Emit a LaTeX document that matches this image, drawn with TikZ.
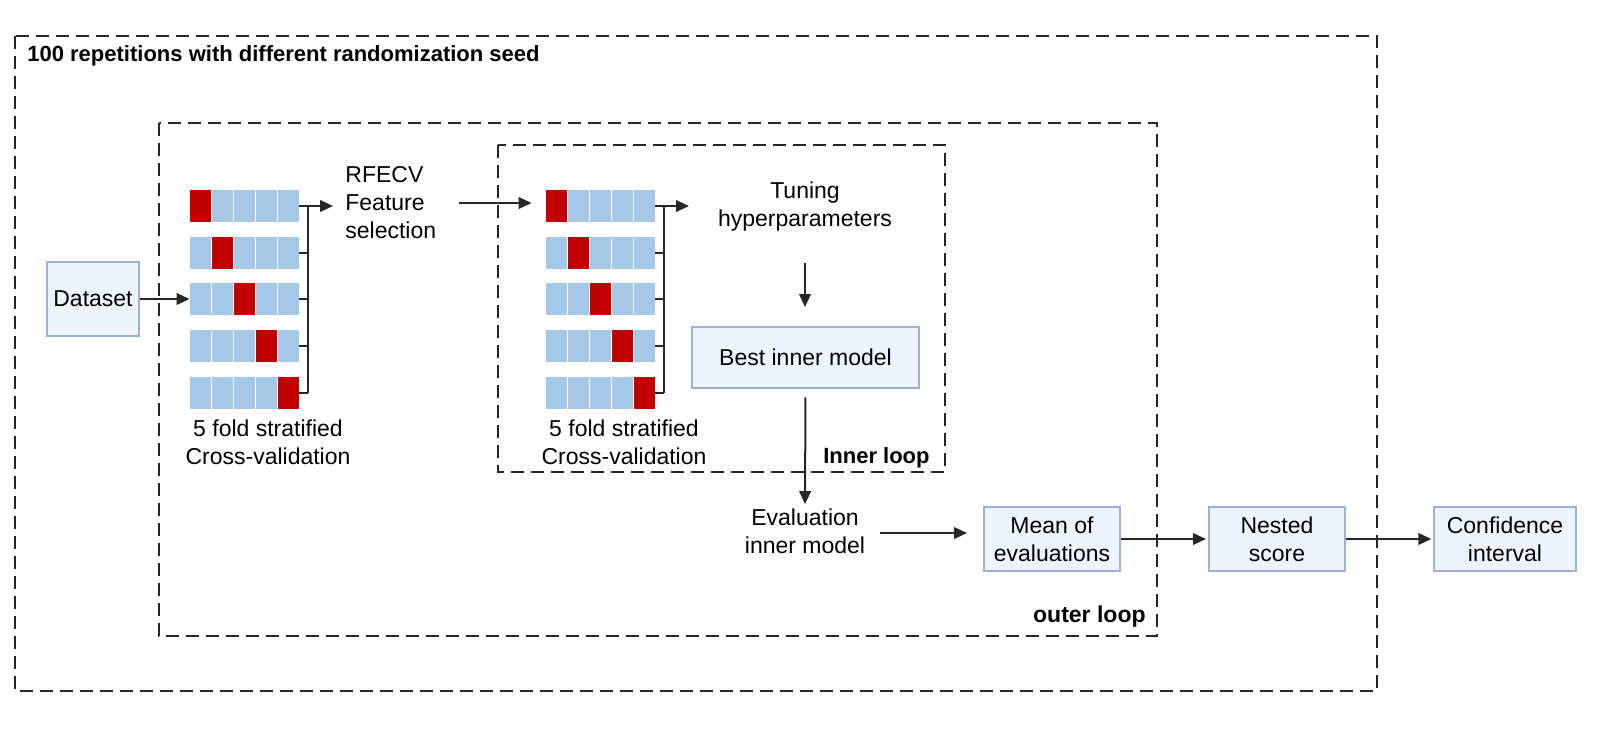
\documentclass[tikz,border=0pt]{standalone}
\usepackage{fontspec}
\setmainfont{Liberation Sans}
\usepackage{tikz}
\usetikzlibrary{arrows.meta, positioning}

\begin{document}
\begin{tikzpicture}[
		x=0.5pt, y=-0.5pt,
		frame/.style={dashed, dash pattern=on 6.5pt off 3.5pt, line width=1pt, black!85},
		cell/.style={minimum width=10.25pt, minimum height=16pt, inner sep=0pt, draw=none},
		link/.style={line width=1pt, black!85},
		arr/.style={link, -{Triangle[length=6.5pt, width=5.8pt]}},
		txt/.style={font=\fontsize{11.5}{14}\selectfont, align=center, inner sep=0pt},
		box/.style={draw=boxline, fill=boxfill, line width=1pt, inner sep=0pt, align=center, font=\fontsize{11.5}{14}\selectfont},
		tag/.style={font=\fontsize{#1}{12}\selectfont\bfseries, inner sep=0pt}
		]
		\definecolor{foldblue}{HTML}{A5C8E8}
		\definecolor{foldred}{HTML}{C00000}
		\definecolor{boxfill}{HTML}{EEF4FD}
		\definecolor{boxline}{HTML}{9CB0D8}
		
		\useasboundingbox (0,0) rectangle (1600,738);
		
		% Repetitions
		\draw[frame] (15,36) rectangle (1377,691);
		\node[tag=11, anchor=base west] (reps) at (27,62) {100 repetitions with different randomization seed};
		
		% Outer loop
		\draw[frame] (159,123) rectangle (1157,636);
		\node[tag=11.5, anchor=base east] (outerlbl) at (1146,622) {outer loop};
		
		% Inner loop
		\draw[frame] (498,145) rectangle (945,472);
		\node[tag=11, anchor=base east] (innerlbl) at (930,463) {Inner loop};
		
		% Fold grids (A outer, B inner)
		\foreach \g/\gx in {A/190,B/546} {
			\foreach \r in {0,...,4} {
				\foreach \c in {0,...,4} {
					\ifnum\c=\r \def\clr{foldred}\else\def\clr{foldblue}\fi
					\node[cell, fill=\clr] (cv\g-\r-\c) at ({\gx+10.25+22*\c},{206+46.7*\r}) {};
				}
				\draw[link] (cv\g-\r-4.east) -- ++(9.5,0);
			}
			\draw[link] ([xshift=4.75pt]cv\g-0-4.east) -- ([xshift=4.75pt]cv\g-4-4.east);
			\node[txt] (cvlbl\g) at ({\gx+78},442) {5 fold stratified\\Cross-validation};
		}
		
		\node[box, minimum width=46.3pt, minimum height=36.8pt] (data) at (93,299) {Dataset};
		\node[txt, align=left, anchor=west] (rfe) at (345,203) {RFECV\\Feature\\selection};
		\node[txt] (tune) at (805,207) {Tuning\\hyperparameters};
		\node[box, minimum width=113.8pt, minimum height=30.8pt] (best) at (805.5,357.5) {Best inner model};
		\node[txt] (evalin) at (805,531) {Evaluation\\inner model};
		\node[box, minimum width=68pt, minimum height=32pt] (mean) at (1052,539) {Mean of\\evaluations};
		\node[box, minimum width=68pt, minimum height=32pt] (nest) at (1277,539) {Nested\\score};
		\node[box, minimum width=70.7pt, minimum height=32pt] (conf) at (1505,539) {Confidence\\interval};
		
		\coordinate (tipA) at (333,206);
		\coordinate (tipB) at (689,206);
		\coordinate (tuneout) at (805,263);
		\coordinate (bestin) at (805,307);
		
		% Connectors
		\draw[arr] (data.east) -- (data.east -| cvA-2-0.west);
		\draw[arr] ([xshift=4.75pt]cvA-0-4.east) -- (tipA);
		\draw[arr] ([xshift=4.75pt]cvB-0-4.east) -- (tipB);
		\draw[arr, shorten <=11pt, shorten >=7pt] (rfe.east) -- (rfe.east -| cvB-0-0.west);
		\draw[arr] (tuneout) -- (bestin);
		\draw[arr, shorten <=4pt, shorten >=2pt] (best.south) -- (evalin.north);
		\draw[arr, shorten <=7pt, shorten >=8pt] ([yshift=-1pt]evalin.east) -- ([yshift=-1pt]evalin.east -| mean.west);
		\draw[arr, shorten >=1pt] (mean.east) -- (nest.west);
		\draw[arr, shorten >=1pt] (nest.east) -- (conf.west);
		
	\end{tikzpicture}
\end{document}
